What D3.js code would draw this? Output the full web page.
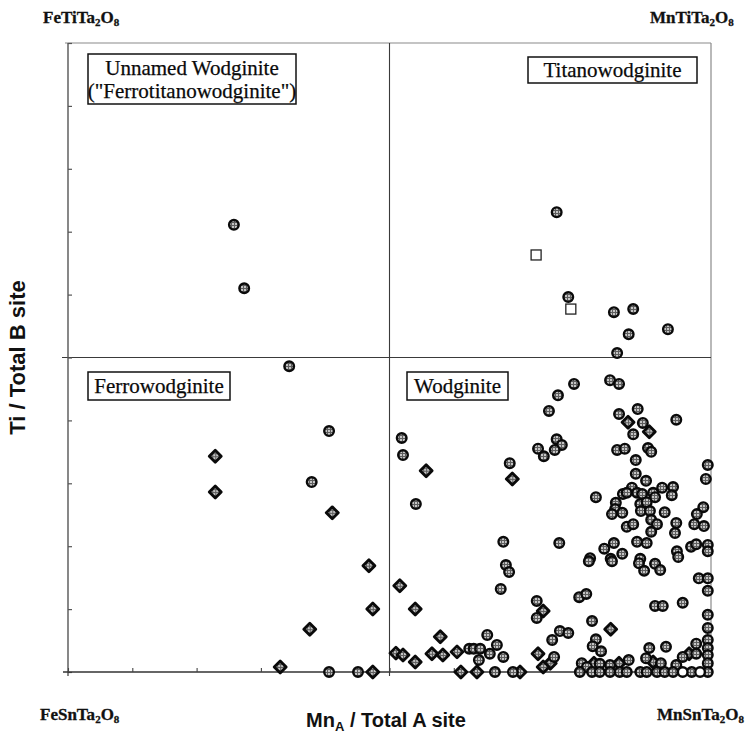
<!DOCTYPE html>
<html>
<head>
<meta charset="utf-8">
<script src="https://cdn.jsdelivr.net/npm/d3@7"></script>
<style>
  html, body { margin: 0; padding: 0; background: #fff; }
  svg { display: block; }
</style>
</head>
<body>
<svg id="chart" width="753" height="738"></svg>
<script>
// Mn/(Mn+Fe) in the A site vs Ti/(Ti+Sn+...) in the B site, wodginite-group analyses.
// Each point is [Mn_A / total A, Ti / total B].

// shaded circles
const circlePoints = [
  [0.258, 0.711], [0.274, 0.610],
  [0.760, 0.731], [0.778, 0.596], [0.849, 0.572], [0.879, 0.577], [0.933, 0.545],
  [0.872, 0.537], [0.854, 0.507],
  [0.344, 0.486], [0.406, 0.383], [0.379, 0.302], [0.406, 0.000], [0.451, 0.000],
  [0.787, 0.458], [0.762, 0.440], [0.748, 0.415], [0.519, 0.372], [0.521, 0.345],
  [0.760, 0.370], [0.768, 0.361], [0.731, 0.355], [0.740, 0.343], [0.757, 0.353],
  [0.687, 0.332], [0.541, 0.267],
  [0.843, 0.464], [0.857, 0.458], [0.857, 0.410], [0.886, 0.418], [0.894, 0.396],
  [0.879, 0.378], [0.946, 0.401], [0.854, 0.353], [0.866, 0.355], [0.902, 0.356],
  [0.907, 0.350], [0.883, 0.337], [0.883, 0.315], [0.899, 0.304], [0.995, 0.329],
  [0.992, 0.307], [0.877, 0.293], [0.863, 0.283], [0.869, 0.285], [0.885, 0.285],
  [0.893, 0.283], [0.910, 0.285], [0.924, 0.293], [0.941, 0.294], [0.939, 0.281],
  [0.821, 0.278], [0.913, 0.278], [0.852, 0.269], [0.890, 0.267], [0.900, 0.270],
  [0.851, 0.259], [0.846, 0.251], [0.862, 0.253], [0.891, 0.256], [0.905, 0.256],
  [0.928, 0.254], [0.988, 0.262], [0.978, 0.251], [0.907, 0.242], [0.916, 0.235],
  [0.907, 0.223], [0.869, 0.231], [0.879, 0.235], [0.946, 0.237], [0.944, 0.221],
  [0.974, 0.235], [0.989, 0.232], [0.885, 0.207], [0.900, 0.205], [0.849, 0.205],
  [0.834, 0.196], [0.862, 0.188], [0.969, 0.199], [0.977, 0.203], [0.995, 0.202],
  [0.995, 0.192], [0.947, 0.192], [0.949, 0.183], [0.812, 0.181], [0.844, 0.180],
  [0.890, 0.180],
  [0.677, 0.207], [0.764, 0.205], [0.810, 0.176], [0.846, 0.176], [0.888, 0.173],
  [0.896, 0.161], [0.913, 0.172], [0.921, 0.162], [0.981, 0.149], [0.995, 0.149],
  [0.995, 0.129], [0.956, 0.110], [0.913, 0.105], [0.925, 0.105], [0.995, 0.091],
  [0.995, 0.070], [0.681, 0.170], [0.686, 0.159], [0.673, 0.132], [0.795, 0.119],
  [0.806, 0.124], [0.729, 0.113], [0.729, 0.086], [0.815, 0.081], [0.765, 0.065],
  [0.778, 0.062], [0.753, 0.051], [0.652, 0.059], [0.821, 0.052], [0.816, 0.041],
  [0.829, 0.033], [0.904, 0.038], [0.930, 0.040], [0.624, 0.037], [0.631, 0.037],
  [0.641, 0.037], [0.667, 0.043], [0.656, 0.029], [0.677, 0.024], [0.639, 0.019],
  [0.756, 0.024], [0.872, 0.019], [0.799, 0.014], [0.807, 0.008], [0.827, 0.013],
  [0.843, 0.011], [0.899, 0.022], [0.922, 0.014], [0.946, 0.011], [0.956, 0.024],
  [0.977, 0.045], [0.977, 0.029], [0.995, 0.051], [0.995, 0.038], [0.995, 0.027],
  [0.995, 0.014],
  [0.664, 0.000], [0.692, 0.000], [0.796, 0.000], [0.815, 0.000], [0.827, 0.000],
  [0.843, 0.000], [0.858, 0.000], [0.869, 0.000], [0.890, 0.000], [0.900, 0.000],
  [0.916, 0.000], [0.928, 0.000], [0.941, 0.000], [0.970, 0.000], [0.995, 0.000]
];

// diamonds
const diamondPoints = [
  [0.229, 0.343], [0.229, 0.286], [0.411, 0.253], [0.468, 0.169], [0.474, 0.100],
  [0.376, 0.068], [0.330, 0.008], [0.474, 0.000],
  [0.557, 0.320], [0.691, 0.307], [0.871, 0.397], [0.904, 0.382],
  [0.516, 0.137], [0.540, 0.100], [0.739, 0.097], [0.844, 0.068], [0.579, 0.056],
  [0.510, 0.030], [0.521, 0.027], [0.566, 0.029], [0.583, 0.027], [0.605, 0.032],
  [0.540, 0.016], [0.731, 0.029], [0.750, 0.014], [0.739, 0.008], [0.857, 0.014],
  [0.818, 0.014], [0.910, 0.016], [0.966, 0.029],
  [0.611, 0.000], [0.636, 0.000], [0.703, 0.000]
];

// open squares
const squarePoints = [[0.728, 0.663], [0.782, 0.577]];

// open circles
const openCirclePoints = [[0.956, 0.000], [0.983, 0.000]];

// end-member compositions at the four corners ([text, isSubscript])
const formulaTiFe = [["FeTiTa", 0], ["2", 1], ["O", 0], ["8", 1]];
const formulaTiMn = [["MnTiTa", 0], ["2", 1], ["O", 0], ["8", 1]];
const formulaSnFe = [["FeSnTa", 0], ["2", 1], ["O", 0], ["8", 1]];
const formulaSnMn = [["MnSnTa", 0], ["2", 1], ["O", 0], ["8", 1]];
const cornerLabels = [
  { parts: formulaTiFe, x: 43, y: 23 },
  { parts: formulaTiMn, x: 650, y: 23 },
  { parts: formulaSnFe, x: 40, y: 720 },
  { parts: formulaSnMn, x: 657, y: 720 }
];

// mineral field names
const fieldLabels = [
  { lines: ["Unnamed Wodginite", "(\"Ferrotitanowodginite\")"], box: [88, 54, 296, 104] },
  { lines: ["Titanowodginite"], box: [528, 57, 697, 83] },
  { lines: ["Ferrowodginite"], box: [88, 372, 230, 400] },
  { lines: ["Wodginite"], box: [407, 372, 508, 400] }
];

const tickValues = d3.range(0, 11).map(d => d / 10);
const boundary = 0.5;

const svg = d3.select("#chart");
const margin = { left: 68, right: 42, top: 43, bottom: 66 };
const W = 753, H = 738;

const x = d3.scaleLinear().domain([0, 1]).range([margin.left, W - margin.right]);
const y = d3.scaleLinear().domain([0, 1]).range([H - margin.bottom, margin.top]);

// hatched gray fill for circle and diamond symbols
const defs = svg.append("defs");
const pat = defs.append("pattern")
  .attr("id", "hatch").attr("patternUnits", "userSpaceOnUse")
  .attr("width", 3).attr("height", 3);
pat.append("rect").attr("width", 3).attr("height", 3).attr("fill", "#c4c4c4");
pat.append("path").attr("d", "M0,0.5H3M0.5,0V3")
  .attr("stroke", "#5e5e5e").attr("stroke-width", 1);

// frame: top and right edges
svg.append("line")
  .attr("x1", x(0) - 3).attr("x2", x(1)).attr("y1", y(1)).attr("y2", y(1))
  .attr("stroke", "#8a8a8a").attr("stroke-width", 1.2);
svg.append("line")
  .attr("x1", x(1)).attr("x2", x(1)).attr("y1", y(1)).attr("y2", y(0))
  .attr("stroke", "#8a8a8a").attr("stroke-width", 1.2);

// quadrant boundaries
svg.append("line")
  .attr("x1", x(0) - 6).attr("x2", x(1)).attr("y1", y(boundary)).attr("y2", y(boundary))
  .attr("stroke", "#3a3a3a").attr("stroke-width", 1.1);
svg.append("line")
  .attr("x1", x(boundary)).attr("x2", x(boundary)).attr("y1", y(1)).attr("y2", y(0) + 4)
  .attr("stroke", "#3a3a3a").attr("stroke-width", 1.1);

// axes (tick marks only, pointing inward)
const yAxis = d3.axisLeft(y).tickValues(tickValues).tickSizeInner(-4).tickSizeOuter(0).tickFormat("");
const xAxis = d3.axisBottom(x).tickValues(tickValues).tickSizeInner(-4).tickSizeOuter(0).tickFormat("");

const gy = svg.append("g").attr("transform", `translate(${x(0)},0)`).call(yAxis);
gy.select(".domain").attr("stroke", "#555").attr("stroke-width", 1.4)
  .attr("d", `M0,${y(1)}V${y(0) + 4}`);
gy.selectAll(".tick line").attr("stroke", "#555").attr("stroke-width", 1.2);

const gx = svg.append("g").attr("transform", `translate(0,${y(0)})`).call(xAxis);
gx.select(".domain").attr("stroke", "#333").attr("stroke-width", 1.3)
  .attr("d", `M${x(0) - 5},0H${x(1)}`);
gx.selectAll(".tick line").attr("stroke", "#444").attr("stroke-width", 1.1);

// field name boxes
fieldLabels.forEach(f => {
  const [x0, y0, x1, y1] = f.box;
  svg.append("rect")
    .attr("x", x0).attr("y", y0).attr("width", x1 - x0).attr("height", y1 - y0)
    .attr("fill", "#fff").attr("stroke", "#111").attr("stroke-width", 1.5);
  const cx = (x0 + x1) / 2;
  const lineH = 23;
  const first = (y0 + y1) / 2 - (f.lines.length - 1) * lineH / 2 + 7;
  f.lines.forEach((t, i) => {
    svg.append("text")
      .attr("x", cx).attr("y", first + i * lineH)
      .attr("text-anchor", "middle")
      .attr("font-family", "'Liberation Serif', 'Times New Roman', serif")
      .attr("font-size", 21).attr("fill", "#0a0a0a")
      .attr("stroke", "#0a0a0a").attr("stroke-width", 0.25)
      .text(t);
  });
});

// data symbols
const plot = svg.append("g");

plot.selectAll("rect.sq").data(squarePoints).join("rect")
  .attr("class", "sq")
  .attr("x", d => x(d[0]) - 5).attr("y", d => y(d[1]) - 5)
  .attr("width", 10).attr("height", 10)
  .attr("fill", "#fff").attr("stroke", "#222").attr("stroke-width", 1.3);

plot.selectAll("path.dia").data(diamondPoints).join("path")
  .attr("class", "dia")
  .attr("transform", d => `translate(${x(d[0])},${y(d[1])})`)
  .attr("d", "M0,-6L6,0L0,6L-6,0Z")
  .attr("fill", "url(#hatch)").attr("stroke", "#0a0a0a").attr("stroke-width", 2.8)
  .attr("stroke-linejoin", "round");

plot.selectAll("circle.pt").data(circlePoints).join("circle")
  .attr("class", "pt")
  .attr("cx", d => x(d[0])).attr("cy", d => y(d[1])).attr("r", 4.8)
  .attr("fill", "url(#hatch)").attr("stroke", "#0a0a0a").attr("stroke-width", 2.4);

plot.selectAll("circle.open").data(openCirclePoints).join("circle")
  .attr("class", "open")
  .attr("cx", d => x(d[0])).attr("cy", d => y(d[1])).attr("r", 4.8)
  .attr("fill", "#fff").attr("stroke", "#0a0a0a").attr("stroke-width", 2.4);

// corner end-member formulas
cornerLabels.forEach(c => {
  const t = svg.append("text")
    .attr("x", c.x).attr("y", c.y)
    .attr("font-family", "'Liberation Serif', 'Times New Roman', serif")
    .attr("font-weight", "bold").attr("font-size", 17).attr("fill", "#111")
    .attr("stroke", "#111").attr("stroke-width", 0.3);
  let shift = 0;
  c.parts.forEach(([s, sub]) => {
    const target = sub ? 3 : 0;
    t.append("tspan")
      .attr("font-size", sub ? 11 : 17)
      .attr("dy", target - shift)
      .text(s);
    shift = target;
  });
});

// axis titles
svg.append("text")
  .attr("transform", `translate(25,${y(0.5)}) rotate(-90)`)
  .attr("text-anchor", "middle")
  .attr("font-family", "'Liberation Sans', Arial, sans-serif")
  .attr("font-weight", "bold").attr("font-size", 22).attr("fill", "#111")
  .text("Ti / Total B site");

const xt = svg.append("text")
  .attr("x", 386).attr("y", 727)
  .attr("text-anchor", "middle")
  .attr("font-family", "'Liberation Sans', Arial, sans-serif")
  .attr("font-weight", "bold").attr("font-size", 20).attr("fill", "#111");
xt.append("tspan").text("Mn");
xt.append("tspan").attr("font-size", 13).attr("dy", 4).text("A");
xt.append("tspan").attr("dy", -4).text(" / Total A site");
</script>
</body>
</html>
